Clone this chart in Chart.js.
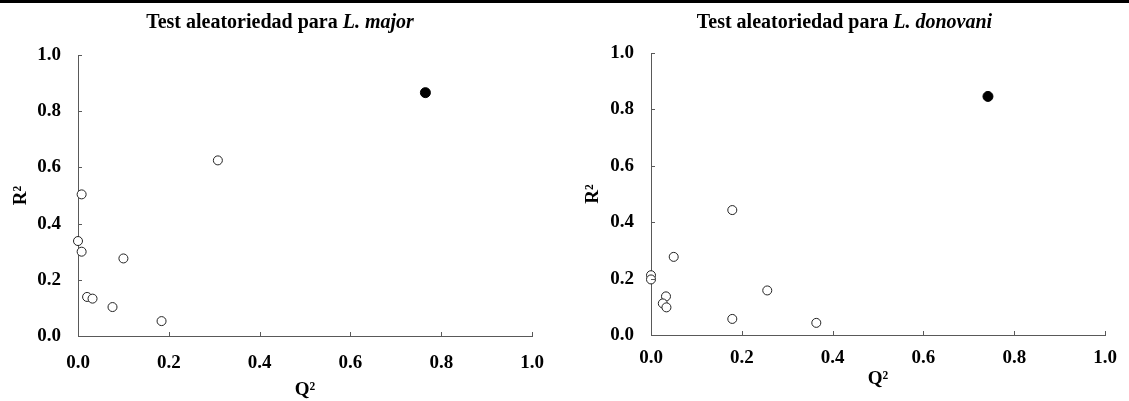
<!DOCTYPE html>
<html>
<head>
<meta charset="utf-8">
<script src="https://cdn.jsdelivr.net/npm/chart.js@4.4.1/dist/chart.umd.min.js"></script>
<style>
  body { margin: 0; background: #fff; width: 1129px; height: 401px; position: relative; overflow: hidden; }
  .bar { position: absolute; left: 0; top: 0; width: 1129px; height: 3px; background: #000; }
  canvas { position: absolute; top: 0; }
  #c-major { left: 0; }
  #c-donovani { left: 560px; }
  .ttl { position: absolute; top: 11px; font: bold 20px/20px "Liberation Serif", "Times New Roman", serif; text-align: center; color: #000; }
</style>
</head>
<body>
<div class="bar"></div>
<canvas id="c-major" width="560" height="401"></canvas>
<canvas id="c-donovani" width="569" height="401"></canvas>
<div class="ttl" style="left:0;width:560px">Test aleatoriedad para <i>L. major</i></div>
<div class="ttl" style="left:560px;width:569px">Test aleatoriedad para <i>L. donovani</i></div>
<script>
// L. major: randomized models (open) and the original model (filled)
const majorRandQ = [0.000, 0.008, 0.008, 0.020, 0.032, 0.076, 0.100, 0.184, 0.308];
const majorRandR = [0.338, 0.504, 0.300, 0.139, 0.133, 0.103, 0.276, 0.053, 0.625];
const majorOrigQ = [0.765];
const majorOrigR = [0.866];

// L. donovani
const donoRandQ = [0.000, 0.000, 0.050, 0.033, 0.026, 0.034, 0.179, 0.179, 0.256, 0.364];
const donoRandR = [0.212, 0.197, 0.277, 0.137, 0.112, 0.098, 0.443, 0.057, 0.158, 0.043];
const donoOrigQ = [0.742];
const donoOrigR = [0.846];

const axisTicks = [0, 0.2, 0.4, 0.6, 0.8, 1.0];
const xTitle = 'Q²';
const yTitle = 'R²';

const FONT = '"Liberation Serif", "Times New Roman", serif';
const AXIS = '#595959';

const pts = (qs, rs) => qs.map((q, i) => ({ x: q, y: rs[i] }));

// tick marks point inwards, so draw them here from the scales
const innerTicks = {
  id: 'innerTicks',
  afterDraw(chart) {
    const { ctx, scales: { x, y } } = chart;
    ctx.save();
    ctx.strokeStyle = AXIS;
    ctx.lineWidth = 1;
    ctx.beginPath();
    axisTicks.forEach(v => {
      const px = Math.round(x.getPixelForValue(v)) + 0.5;
      ctx.moveTo(px, x.top);
      ctx.lineTo(px, x.top - 4);
      const py = Math.round(y.getPixelForValue(v)) + 0.5;
      ctx.moveTo(y.right, py);
      ctx.lineTo(y.right + 4, py);
    });
    ctx.stroke();
    ctx.restore();
  },
};

function makeChart(id, randQ, randR, origQ, origR, lay) {
  const tickFont = { family: FONT, size: 19, weight: 'bold' };
  const axis = (pos) => ({
    type: 'linear',
    min: 0,
    max: 1,
    afterBuildTicks: s => { s.ticks = axisTicks.map(v => ({ value: v })); },
    grid: { display: true, drawOnChartArea: false, drawTicks: false },
    border: { display: true, color: AXIS, width: 1 },
    ticks: {
      color: '#000',
      font: tickFont,
      padding: pos === 'x' ? lay.xPad : 17,
      callback: v => v.toFixed(1),
    },
    title: {
      display: true,
      text: pos === 'x' ? xTitle : yTitle,
      color: '#000',
      font: tickFont,
      padding: pos === 'x' ? { top: 0, bottom: lay.xTitlePad } : { top: lay.yTitlePad, bottom: 0 },
    },
    afterFit: s => {
      if (pos === 'x') s.height = lay.xH;
      else s.width = lay.yW;
    },
  });

  return new Chart(document.getElementById(id), {
    type: 'scatter',
    data: {
      datasets: [
        {
          label: 'aleatorios',
          data: pts(randQ, randR),
          clip: false,
          pointRadius: 4.5,
          pointBorderWidth: 1,
          pointBorderColor: '#222',
          pointBackgroundColor: '#fff',
        },
        {
          label: 'original',
          data: pts(origQ, origR),
          clip: false,
          pointRadius: 5,
          pointBorderWidth: 1,
          pointBorderColor: '#000',
          pointBackgroundColor: '#000',
        },
      ],
    },
    options: {
      responsive: false,
      animation: false,
      layout: { padding: { top: lay.top, right: lay.right, left: 0, bottom: 0 } },
      plugins: { legend: { display: false }, tooltip: { enabled: false } },
      scales: { x: axis('x'), y: axis('y') },
    },
    plugins: [innerTicks],
  });
}

makeChart('c-major', majorRandQ, majorRandR, majorOrigQ, majorOrigR,
  { top: 55, right: 19, yW: 78, xH: 65, xPad: 16, xTitlePad: 0, yTitlePad: 10 });
makeChart('c-donovani', donoRandQ, donoRandR, donoOrigQ, donoOrigR,
  { top: 53, right: 15, yW: 91, xH: 66, xPad: 12, xTitlePad: 11, yTitlePad: 22 });
</script>
</body>
</html>
